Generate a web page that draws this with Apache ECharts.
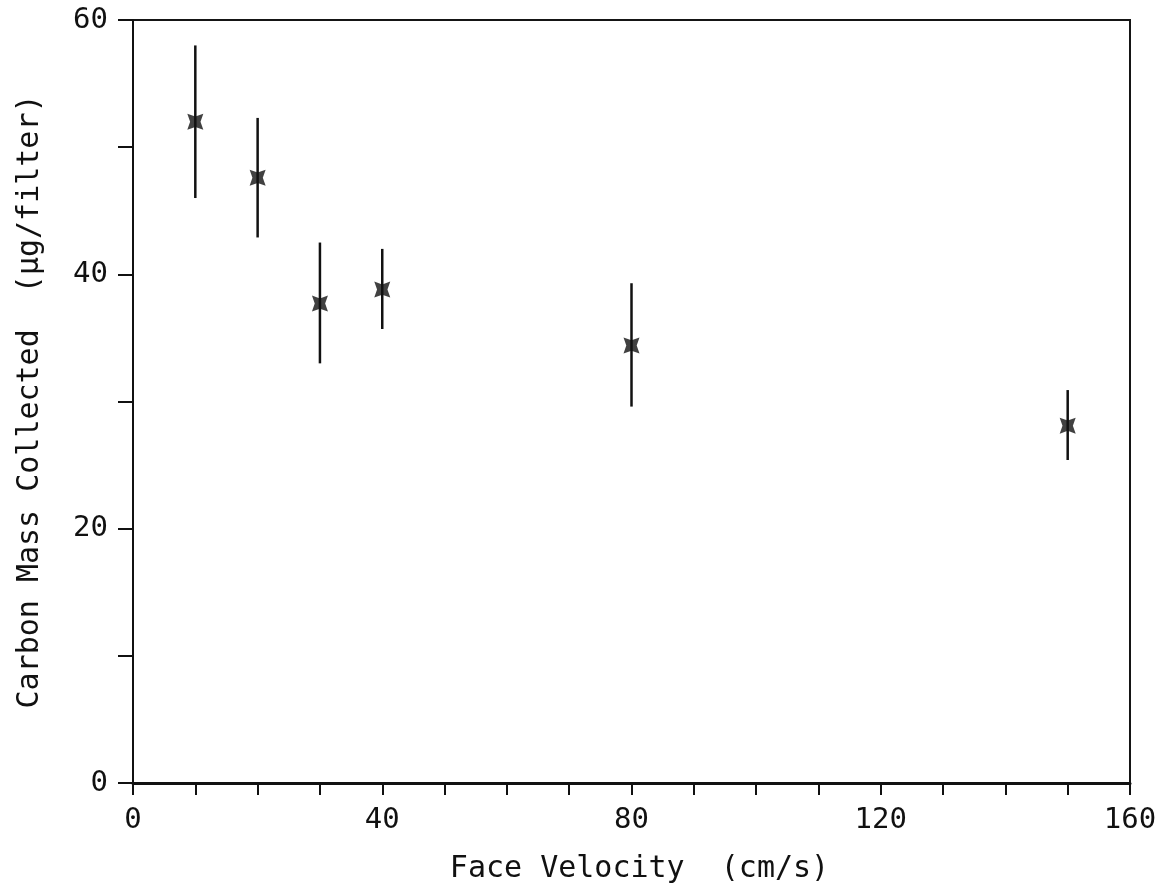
<!DOCTYPE html>
<html><head><meta charset="utf-8">
<script src="https://cdn.jsdelivr.net/npm/echarts@6/dist/echarts.min.js"></script>
<style>html,body{margin:0;padding:0;background:#fff}#c{width:1171px;height:891px}</style>
</head><body><div id="c"></div>
<script>
const velocity = [10, 20, 30, 40, 80, 150];
const mass = [52.0, 47.6, 37.7, 38.8, 34.4, 28.1];
const errLow = [46.0, 42.9, 33.0, 35.7, 29.6, 25.4];
const errHigh = [58.0, 52.3, 42.5, 42.0, 39.3, 30.9];
const xLabelTicks = [0, 40, 80, 120, 160];
const yLabelTicks = [0, 20, 40, 60];

const font = "'DejaVu Sans Mono', monospace";
const chart = echarts.init(document.getElementById('c'));
const pts = velocity.map((v, i) => [v, mass[i]]);
const errs = velocity.map((v, i) => [v, errLow[i], errHigh[i]]);
chart.setOption({
  animation: false,
  backgroundColor: '#fff',
  grid: {left: 133, right: 41, top: 20, bottom: 108, show: true, borderColor: '#151515', borderWidth: 2},
  xAxis: {
    type: 'value', min: 0, max: 160, interval: 10,
    name: 'Face Velocity  (cm/s)', nameLocation: 'middle', nameGap: 71,
    nameTextStyle: {fontFamily: font, fontSize: 30, fontWeight: 'normal', color: '#111', padding: [0, 0, 0, 16]},
    axisLine: {show: true, lineStyle: {color: '#111', width: 3}},
    axisTick: {show: true, inside: false, length: 12, lineStyle: {color: '#111', width: 2}},
    axisLabel: {fontFamily: font, fontSize: 29, color: '#111', margin: 23,
      formatter: v => xLabelTicks.includes(v) ? String(v) : ''},
    splitLine: {show: false}
  },
  yAxis: {
    type: 'value', min: 0, max: 60, interval: 10,
    name: 'Carbon Mass Collected  (\u03bcg/filter)', nameLocation: 'middle', nameGap: 88,
    nameTextStyle: {fontFamily: font, fontSize: 30, color: '#111'},
    axisLine: {show: true, lineStyle: {color: '#111', width: 1.5}},
    axisTick: {show: true, inside: false, length: 15, lineStyle: {color: '#111', width: 2}},
    axisLabel: {fontFamily: font, fontSize: 29, color: '#111', margin: 25,
      formatter: v => yLabelTicks.includes(v) ? String(v) : ''},
    splitLine: {show: false}
  },
  series: [
    {
      type: 'custom',
      data: errs,
      renderItem: (params, api) => {
        const top = api.coord([api.value(0), api.value(2)]);
        const bot = api.coord([api.value(0), api.value(1)]);
        return {type: 'line', shape: {x1: top[0], y1: top[1], x2: bot[0], y2: bot[1]},
          style: {stroke: '#111', lineWidth: 2.5}};
      },
      encode: {x: 0, y: [1, 2]},
      z: 2
    },
    {
      type: 'scatter',
      data: pts,
      symbol: 'path://M0,0 L10,3.5 L20,0 L16.5,10 L20,20 L10,16.5 L0,20 L3.5,10 Z',
      symbolSize: 16,
      itemStyle: {color: '#111'},
      z: 3
    }
  ]
});
</script></body></html>
